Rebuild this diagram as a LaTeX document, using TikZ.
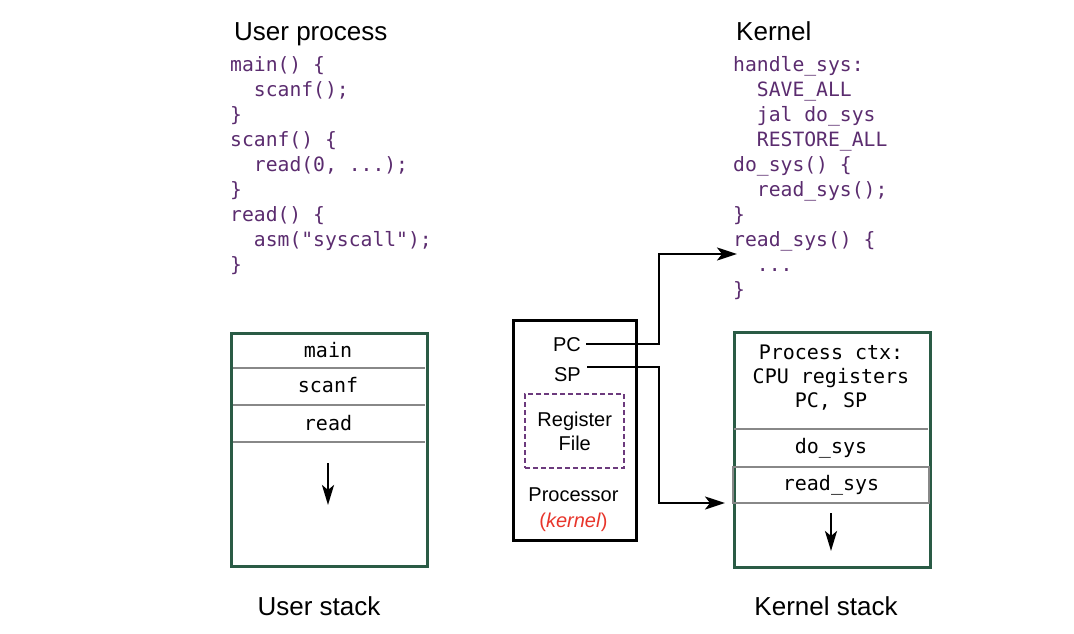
\documentclass[tikz,border=0pt]{standalone}
\usepackage{fontspec}
\setmainfont{Liberation Sans}
\newfontfamily\codefont{DejaVu Sans Mono}
\usetikzlibrary{arrows.meta}
\definecolor{codepurple}{HTML}{5B2C6F}
\definecolor{boxgreen}{HTML}{2A5B45}
\definecolor{sepgray}{HTML}{888888}
\definecolor{dashpurple}{HTML}{6C3A7D}
\definecolor{kernelred}{HTML}{E8352B}
\tikzset{
  title/.style={font=\fontsize{26}{30}\selectfont, inner sep=0},
  codeblock/.style={font=\codefont\fontsize{19.7}{25}\selectfont, text=codepurple, align=left, inner sep=0, anchor=north west},
  frame/.style={draw=boxgreen, line width=2.6pt, inner sep=0, anchor=north west},
  sepline/.style={draw=sepgray, line width=2.5pt},
  mono/.style={font=\codefont\fontsize{20}{24}\selectfont, inner sep=0},
  proctext/.style={font=\fontsize{20}{24}\selectfont, inner sep=0},
  arr/.style={-{Stealth[length=20pt,width=13pt,inset=5pt]}, line width=2.4pt},
  stackarr/.style={-{Stealth[length=20pt,width=12pt,inset=5pt]}, line width=2.6pt}
}
\begin{document}
\begin{tikzpicture}[x=1pt,y=-1pt]
\useasboundingbox[fill=white] (0,0) rectangle (1074,634);

% titles and code
\node[title, anchor=base west] (utitle) at (234,41) {User process};
\node[codeblock] (ucode) at (230,56) {main() \{\\\hphantom{xx}scanf();\\\}\\scanf() \{\\\hphantom{xx}read(0, ...);\\\}\\read() \{\\\hphantom{xx}asm("syscall");\\\}};

\node[title, anchor=base west] (ktitle) at (736,41) {Kernel};
\node[codeblock] (kcode) at (733,56) {handle\_sys:\\\hphantom{xx}SAVE\_ALL\\\hphantom{xx}jal do\_sys\\\hphantom{xx}RESTORE\_ALL\\do\_sys() \{\\\hphantom{xx}read\_sys();\\\}\\read\_sys() \{\\\hphantom{xx}...\\\}};

% user stack
\draw[sepline] (231,368) -- (425,368);
\draw[sepline] (231,405) -- (425,405);
\draw[sepline] (231,442) -- (425,442);
\node[frame, minimum width=196, minimum height=233] (ustack) at (230,332) {};
\node[mono, anchor=base] (umain) at (328,357) {main};
\node[mono, anchor=base] (uscanf) at (328,392) {scanf};
\node[mono, anchor=base] (uread) at (328,430) {read};
\draw[stackarr] (328,463) -- (328,505);
\node[title, anchor=base] (ustacklabel) at (319,615) {User stack};

% kernel stack
\node[frame, minimum width=196, minimum height=235] (kstack) at (733,331) {};
\draw[sepline] (734,429) -- (928,429);
\draw[sepline] (733,467) rectangle (929,503);
\node[mono, align=center] (kctx) at (831,378) {Process ctx:\\CPU registers\\PC, SP};
\node[mono, anchor=base] (kdosys) at (831,453) {do\_sys};
\node[mono, anchor=base] (kreadsys) at (831,490) {read\_sys};
\draw[stackarr] (831,513) -- (831,551);
\node[title, anchor=base] (kstacklabel) at (826,615) {Kernel stack};

% processor
\node[draw, line width=2.6pt, inner sep=0, anchor=north west, minimum width=123, minimum height=220] (proc) at (512,319) {};
\node[proctext, anchor=base east] (pc) at (581,351) {PC};
\node[proctext, anchor=base east] (sp) at (581,381) {SP};
\node[draw=dashpurple, line width=2.4pt, dash pattern=on 5pt off 3pt, anchor=north west, minimum width=99, minimum height=74, inner sep=0, align=center, font=\fontsize{20}{24}\selectfont] (regfile) at (524,393) {Register\\File};
\node[proctext, anchor=base] (proclabel) at (573.5,501) {Processor};
\node[proctext, anchor=base, text=kernelred] (kernlabel) at (573.5,527) {(\textit{kernel})};

% connectors
\coordinate (pcbend) at (659,254);
\coordinate (pcend) at (737,254);
\coordinate (spbend) at (659,503);
\coordinate (spend) at (725,503);
\draw[arr] (pc.east) ++(5,0) -| (pcbend) -- (pcend);
\draw[arr] ([yshift=7pt]sp.east) ++(6,0) -| (spbend) -- (spend);
\end{tikzpicture}
\end{document}
